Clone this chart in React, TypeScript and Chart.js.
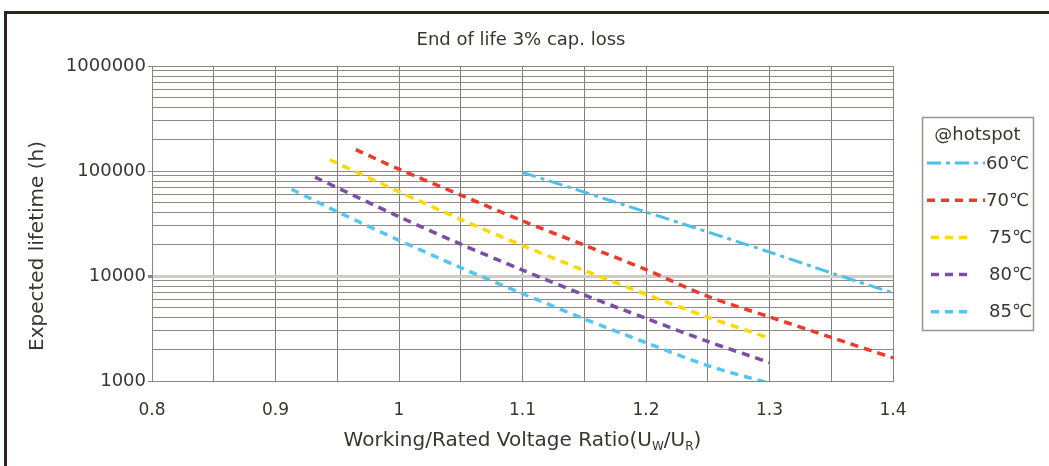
import React, { useEffect, useRef } from "react";
import { Chart, registerables } from "chart.js";

Chart.register(...registerables);

const chartTitle = "End of life 3% cap. loss";
const legendTitle = "@hotspot";
const yAxisTitle = "Expected lifetime (h)";
const xAxisTitleParts = ["Working/Rated Voltage Ratio(U", "W", "/U", "R", ")"];

const xTickValues = [0.8, 0.85, 0.9, 0.95, 1.0, 1.05, 1.1, 1.15, 1.2, 1.25, 1.3, 1.35, 1.4];
const xLabelValues = [0.8, 0.9, 1.0, 1.1, 1.2, 1.3, 1.4];
const yTickValues = [
  1000, 2000, 3000, 4000, 5000, 6000, 7000, 8000, 9000,
  10000, 20000, 30000, 40000, 50000, 60000, 70000, 80000, 90000,
  100000, 200000, 300000, 400000, 500000, 600000, 700000, 800000, 900000,
  1000000,
];
const yLabelValues = [1000, 10000, 100000, 1000000];

const seriesNames = ["60℃", "70℃", "75℃", "80℃", "85℃"];

const x60 = [1.1, 1.2, 1.3, 1.35, 1.4];
const y60 = [97000, 40700, 16900, 10700, 6900];

const x70 = [0.965, 1.0, 1.05, 1.1, 1.15, 1.2, 1.25, 1.3, 1.35, 1.4];
const y70 = [160000, 104000, 59000, 33500, 19700, 11500, 6400, 4080, 2600, 1660];

const x75 = [0.944, 1.0, 1.05, 1.1, 1.15, 1.2, 1.25, 1.3];
const y75 = [128000, 63500, 34600, 19500, 11300, 6700, 4050, 2560];

const x80 = [0.932, 1.0, 1.05, 1.1, 1.15, 1.2, 1.25, 1.3];
const y80 = [87300, 36700, 20100, 11400, 6600, 3950, 2380, 1500];

const x85 = [0.913, 0.95, 1.0, 1.05, 1.1, 1.15, 1.2, 1.25, 1.3];
const y85 = [67000, 41000, 21900, 12000, 6800, 3900, 2320, 1400, 950];

const FONT = "'DejaVu Sans', sans-serif";
const TEXT = "#3a3530";

function pts(xs: number[], ys: number[]) {
  return xs.map((x, i) => ({ x, y: ys[i] }));
}

const extrasPlugin = {
  id: "extras",
  afterDraw(chart: any) {
    const ctx = chart.ctx as CanvasRenderingContext2D;
    const area = chart.chartArea;
    ctx.save();
    ctx.fillStyle = TEXT;

    // Chart title
    ctx.font = `18px ${FONT}`;
    ctx.textAlign = "center";
    ctx.textBaseline = "middle";
    ctx.fillText(chartTitle, 521, 40);

    // Y axis title
    ctx.save();
    ctx.font = `20px ${FONT}`;
    ctx.translate(38, 246);
    ctx.rotate(-Math.PI / 2);
    ctx.textAlign = "center";
    ctx.textBaseline = "middle";
    ctx.fillText(yAxisTitle, 0, 0);
    ctx.restore();

    // X axis title with subscripts
    const big = `20px ${FONT}`;
    const small = `12px ${FONT}`;
    const fonts = [big, small, big, small, big];
    let total = 0;
    const widths = xAxisTitleParts.map((t, i) => {
      ctx.font = fonts[i];
      const w = ctx.measureText(t).width;
      total += w;
      return w;
    });
    let cx = (area.left + area.right) / 2 - total / 2;
    const baseY = 446;
    ctx.textAlign = "left";
    ctx.textBaseline = "alphabetic";
    xAxisTitleParts.forEach((t, i) => {
      ctx.font = fonts[i];
      ctx.fillText(t, cx, i % 2 === 1 ? baseY + 4 : baseY);
      cx += widths[i];
    });

    // Legend
    const bx = 922, by = 117, bw = 111, bh = 213;
    ctx.strokeStyle = "#9a9590";
    ctx.lineWidth = 1.5;
    ctx.setLineDash([]);
    ctx.strokeRect(bx + 0.5, by + 0.5, bw, bh);
    ctx.font = `18px ${FONT}`;
    ctx.textAlign = "center";
    ctx.textBaseline = "middle";
    ctx.fillText(legendTitle, bx + bw / 2, 135);
    chart.data.datasets.forEach((ds: any, i: number) => {
      const y = 163 + i * 37.2;
      const long = i < 2;
      ctx.save();
      ctx.strokeStyle = ds.borderColor;
      ctx.lineWidth = ds.borderWidth;
      ctx.setLineDash(ds.borderDash || []);
      ctx.beginPath();
      ctx.moveTo(long ? 927 : 931, y);
      ctx.lineTo(long ? 985 : 969, y);
      ctx.stroke();
      ctx.restore();
      ctx.font = `18px ${FONT}`;
      ctx.textAlign = "left";
      ctx.fillStyle = TEXT;
      ctx.fillText(ds.label, long ? 986 : 989, y + 1);
    });
    ctx.restore();
  },
};

export default function App() {
  const ref = useRef<HTMLCanvasElement | null>(null);
  useEffect(() => {
    if (!ref.current) return;
    const series = [
      { x: x60, y: y60, color: "#4bbfee", dash: [14, 5, 4, 5], width: 3 },
      { x: x70, y: y70, color: "#ee3a2a", dash: [8, 6], width: 3.5 },
      { x: x75, y: y75, color: "#fcd800", dash: [8, 6], width: 3.5 },
      { x: x80, y: y80, color: "#7a4ea8", dash: [8, 6], width: 3.5 },
      { x: x85, y: y85, color: "#55c6f2", dash: [8, 6], width: 3.5 },
    ];
    const chart = new Chart(ref.current, {
      type: "line",
      data: {
        datasets: series.map((s, i) => ({
          label: seriesNames[i],
          data: pts(s.x, s.y),
          borderColor: s.color,
          backgroundColor: s.color,
          borderDash: s.dash,
          borderWidth: s.width,
          pointRadius: 0,
          fill: false,
          tension: 0.3,
        })),
      },
      options: {
        animation: false,
        responsive: true,
        maintainAspectRatio: false,
        layout: { padding: { left: 0, right: 156, top: 66, bottom: 0 } },
        plugins: {
          legend: { display: false },
          tooltip: { enabled: false },
          title: { display: false },
        },
        scales: {
          x: {
            type: "linear",
            min: 0.8,
            max: 1.4,
            afterBuildTicks: (scale: any) => {
              scale.ticks = xTickValues.map((v) => ({ value: v }));
            },
            afterFit: (scale: any) => {
              scale.height = 85;
            },
            ticks: {
              color: TEXT,
              font: { family: FONT, size: 17 },
              padding: 19,
              maxRotation: 0,
              autoSkip: false,
              callback: (value: any) => {
                const v = Number(value);
                return xLabelValues.some((l) => Math.abs(l - v) < 1e-6)
                  ? String(Math.round(v * 10) / 10)
                  : "";
              },
            },
            grid: {
              color: "#857f79",
              lineWidth: 1,
              drawTicks: false,
            },
            border: { color: "#8a8580", width: 1 },
          },
          y: {
            type: "logarithmic",
            min: 1000,
            max: 1000000,
            afterBuildTicks: (scale: any) => {
              scale.ticks = yTickValues.map((v) => ({ value: v }));
            },
            afterFit: (scale: any) => {
              scale.width = 152;
            },
            ticks: {
              color: TEXT,
              font: { family: FONT, size: 18 },
              padding: 2,
              autoSkip: false,
              callback: (value: any) =>
                yLabelValues.includes(Number(value)) ? String(value) : "",
            },
            grid: {
              color: (c: any) => (c.tick && c.tick.value === 10000 ? "#cfcbc7" : "#8e8984"),
              lineWidth: (c: any) => (c.tick && c.tick.value === 10000 ? 3 : 1),
              tickLength: 4,
              tickColor: (c: any) =>
                c.tick && yLabelValues.includes(c.tick.value) ? "#8e8984" : "rgba(0,0,0,0)",
            },
            border: { color: "#8a8580", width: 1 },
          },
        },
      },
      plugins: [extrasPlugin],
    });
    return () => chart.destroy();
  }, []);

  return (
    <div
      style={{
        position: "fixed",
        left: 0,
        top: 0,
        width: 1049,
        height: 466,
        background: "#fff",
        overflow: "hidden",
      }}
    >
      <div
        style={{
          position: "absolute",
          left: 4,
          top: 11,
          right: -20,
          bottom: -20,
          borderTop: "3px solid #2b231c",
          borderLeft: "3px solid #2b231c",
          pointerEvents: "none",
        }}
      />
      <canvas ref={ref} style={{ position: "absolute", left: 0, top: 0 }} />
    </div>
  );
}
